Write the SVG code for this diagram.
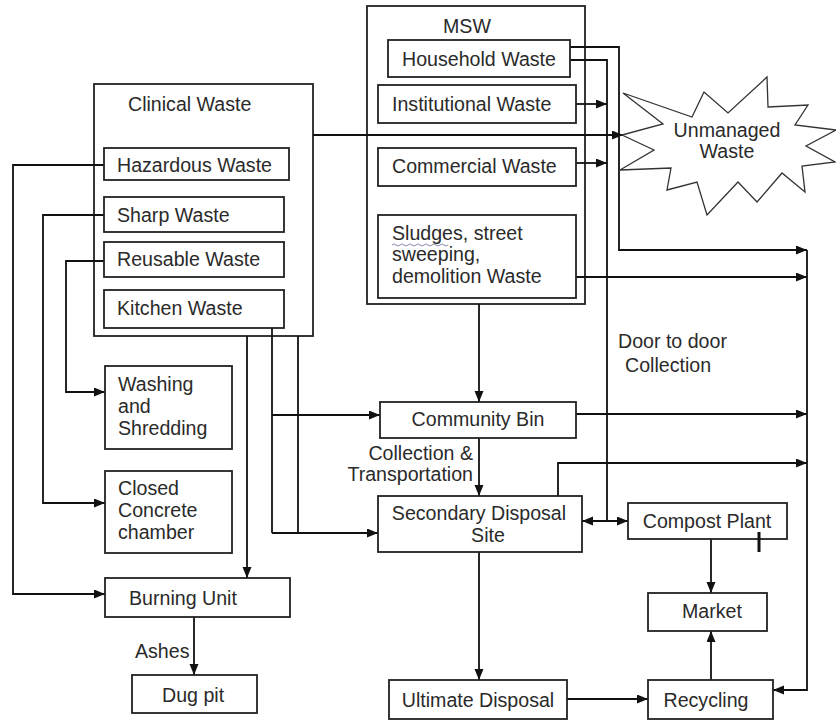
<svg xmlns="http://www.w3.org/2000/svg" width="836" height="721" viewBox="0 0 836 721">
<defs>
<marker id="ah" markerUnits="userSpaceOnUse" markerWidth="12" markerHeight="10" refX="11" refY="4.5" orient="auto-start-reverse">
<path d="M0,0 L11,4.5 L0,9 z" fill="#111"/>
</marker>
<style>
rect{fill:#fff;stroke:#222;stroke-width:1.8}
.c path,.c line,.c polyline{fill:none;stroke:#111;stroke-width:1.8}
text{font-family:"Liberation Sans",Arial,sans-serif;font-size:19.6px;fill:#2a2a2a}
</style>
</defs>
<rect x="0" y="0" width="836" height="721" style="fill:#fff;stroke:none"/>

<g id="clinical"><rect x="94" y="84" width="219" height="252"/><text x="128" y="111">Clinical Waste</text></g>
<g id="msw"><rect x="367" y="6" width="218" height="298"/><text x="467" y="33" text-anchor="middle">MSW</text></g>

<g class="c" id="connectors">
<polyline points="104,165 13,165 13,594 105,594" marker-end="url(#ah)"/>
<polyline points="104,215 43,215 43,503 105,503" marker-end="url(#ah)"/>
<polyline points="104,261 66,261 66,392 105,392" marker-end="url(#ah)"/>
<line x1="247" y1="336" x2="247" y2="578" marker-end="url(#ah)"/>
<line x1="194" y1="617" x2="194" y2="675" marker-end="url(#ah)"/>
<polyline points="272,328 272,533"/>
<polyline points="298,336 298,533"/>
<line x1="272" y1="415" x2="380" y2="415" marker-end="url(#ah)"/>
<line x1="272" y1="533" x2="378" y2="533" marker-end="url(#ah)"/>
<line x1="313" y1="135" x2="623" y2="135" marker-end="url(#ah)"/>
<line x1="479" y1="304" x2="479" y2="402" marker-end="url(#ah)"/>
<line x1="479" y1="438" x2="479" y2="496" marker-end="url(#ah)"/>
<polyline points="570,47 619,47 619,250 807,250" marker-end="url(#ah)"/>
<polyline points="570,60 607,60 607,521"/>
<line x1="576" y1="104" x2="607" y2="104" marker-end="url(#ah)"/>
<line x1="576" y1="163" x2="607" y2="163" marker-end="url(#ah)"/>
<line x1="576" y1="277" x2="807" y2="277" marker-end="url(#ah)"/>
<line x1="576" y1="414" x2="807" y2="414" marker-end="url(#ah)"/>
<polyline points="558,496 558,463 807,463" marker-end="url(#ah)"/>
<line x1="582" y1="521" x2="628" y2="521" marker-start="url(#ah)" marker-end="url(#ah)"/>
<polyline points="807,250 807,690 773,690" marker-end="url(#ah)"/>
<line x1="479" y1="552" x2="479" y2="680" marker-end="url(#ah)"/>
<line x1="567" y1="699" x2="648" y2="699" marker-end="url(#ah)"/>
<line x1="711" y1="539" x2="711" y2="593" marker-end="url(#ah)"/>
<line x1="711" y1="680" x2="711" y2="631" marker-end="url(#ah)"/>
</g>

<g id="hazardous"><rect x="104" y="148" width="185" height="32"/><text x="117" y="172">Hazardous Waste</text></g>
<g id="sharp"><rect x="104" y="197" width="180" height="35"/><text x="117" y="222">Sharp Waste</text></g>
<g id="reusable"><rect x="104" y="242" width="180" height="35"/><text x="117" y="266">Reusable Waste</text></g>
<g id="kitchen"><rect x="104" y="290" width="180" height="38"/><text x="117" y="315">Kitchen Waste</text></g>
<g id="washing"><rect x="105" y="366" width="127" height="83"/><text x="118" y="391">Washing</text><text x="118" y="413">and</text><text x="118" y="435">Shredding</text></g>
<g id="closed"><rect x="105" y="471" width="127" height="82"/><text x="118" y="495">Closed</text><text x="118" y="517">Concrete</text><text x="118" y="539">chamber</text></g>
<g id="burning"><rect x="105" y="578" width="185" height="39"/><text x="129" y="605">Burning Unit</text></g>
<text x="135" y="658">Ashes</text>
<g id="dugpit"><rect x="132" y="675" width="125" height="38"/><text x="162" y="702">Dug pit</text></g>

<g id="household"><rect x="388" y="40" width="182" height="37"/><text x="402" y="66">Household Waste</text></g>
<g id="institutional"><rect x="378" y="85" width="198" height="38"/><text x="392" y="111">Institutional Waste</text></g>
<g id="commercial"><rect x="378" y="148" width="198" height="38"/><text x="392" y="173">Commercial Waste</text></g>
<g id="sludges"><rect x="378" y="215" width="198" height="83"/><text x="392" y="240">Sludges, street</text><text x="392" y="261">sweeping,</text><text x="392" y="283">demolition Waste</text>
<path d="M392,245 q2,-2 4,0 t4,0 t4,0 t4,0 t4,0 t4,0 t4,0 t4,0 t4,0 t4,0 t4,0 t4,0 t4,0 t4,0" fill="none" stroke="#88a" stroke-width="1"/></g>

<g id="unmanaged"><polygon points="623,93 692,117 704,92 728,113 767,77 768,107 808,105 795,125 836,130 806,146 835,162 802,166 805,192 782,173 757,202 738,182 707,215 697,182 667,190 671,168 620,170 654,150 622,135 663,124" style="fill:#fff;stroke:#333;stroke-width:1.3"/>
<text x="727" y="137" text-anchor="middle">Unmanaged</text><text x="727" y="158" text-anchor="middle">Waste</text></g>

<text x="618" y="348">Door to door</text>
<text x="625" y="372">Collection</text>

<g id="community"><rect x="380" y="402" width="196" height="36"/><text x="478" y="426" text-anchor="middle">Community Bin</text></g>
<text x="473" y="460" text-anchor="end">Collection &amp;</text>
<text x="473" y="481" text-anchor="end">Transportation</text>
<g id="secondary"><rect x="378" y="496" width="204" height="56"/><text x="479" y="520" text-anchor="middle">Secondary Disposal</text><text x="488" y="542" text-anchor="middle">Site</text></g>
<g id="compost"><rect x="628" y="503" width="159" height="36"/><text x="707" y="528" text-anchor="middle">Compost Plant</text><line x1="759" y1="532" x2="759" y2="552" stroke="#111" stroke-width="3"/></g>
<g id="market"><rect x="648" y="593" width="119" height="38"/><text x="712" y="618" text-anchor="middle">Market</text></g>
<g id="ultimate"><rect x="389" y="680" width="178" height="39"/><text x="478" y="707" text-anchor="middle">Ultimate Disposal</text></g>
<g id="recycling"><rect x="648" y="680" width="125" height="39"/><text x="706" y="707" text-anchor="middle">Recycling</text></g>
</svg>
